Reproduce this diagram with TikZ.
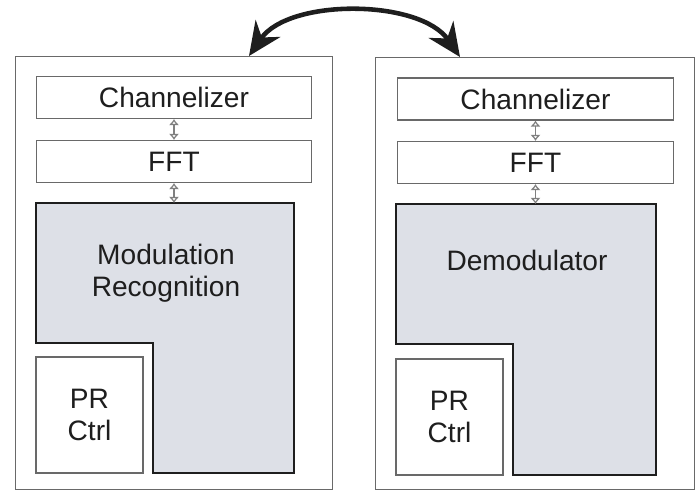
\documentclass[tikz,border=0pt]{standalone}
\usepackage{fontspec}
\setmainfont{Liberation Sans}
\usetikzlibrary{arrows.meta}
\definecolor{modgray}{RGB}{221,224,231}
\definecolor{boxline}{RGB}{105,105,105}
\definecolor{ink}{RGB}{30,30,30}
\tikzset{
  unit/.style={draw=boxline, line width=0.6pt, fill=white, inner sep=0pt},
  stage/.style={draw=boxline, line width=0.6pt, fill=white, inner sep=0pt,
    minimum width=5.52cm, minimum height=0.84cm, text=ink,
    font=\fontsize{16}{18}\selectfont},
  ctrl/.style={draw=boxline, line width=0.6pt, fill=white, inner sep=0pt,
    minimum width=2.14cm, minimum height=2.32cm, align=center, text=ink,
    font=\fontsize{16}{18}\selectfont},
  core/.style={draw=ink, line width=1.5pt, fill=modgray, line join=miter},
  label/.style={align=center, text=ink, font=\fontsize{16}{18.5}\selectfont},
  link/.style={draw=black!50, line width=1.1pt,
    {Latex[open,length=3.5pt,width=6pt]}-{Latex[open,length=3.5pt,width=6pt]}},
  swap/.style={draw=ink, line width=2.6pt,
    {Stealth[length=19pt,width=17pt]}-{Stealth[length=19pt,width=17pt]}}
}
\begin{document}
\begin{tikzpicture}[x=0.02cm, y=-0.02cm]
\useasboundingbox (0,0) rectangle (698,493);
% left unit
\node[unit, minimum width=6.36cm, minimum height=8.68cm] (unitL) at (174,273) {};
\node[stage] (chanL) at (174,97.5) {Channelizer};
\node[stage] (fftL) at (174,161.5) {FFT};
\path[core] (36,203) -- (294,203) -- (294,473) -- (153,473) -- (153,343) -- (36,343) -- cycle;
\coordinate (modL) at (174,203);
\node[label] (recog) at (166,273) {Modulation\\Recognition};
\node[ctrl] (prL) at (89.5,415) {PR\\Ctrl};
\path[link] (chanL) -- (fftL);
\path[link] (fftL) -- (modL);
% right unit
\node[unit, minimum width=6.4cm, minimum height=8.66cm] (unitR) at (535,273.5) {};
\node[stage] (chanR) at (535.5,99) {Channelizer};
\node[stage] (fftR) at (535.5,162.5) {FFT};
\path[core] (396,204) -- (656,204) -- (656,475) -- (513,475) -- (513,344) -- (396,344) -- cycle;
\coordinate (modR) at (535.5,204);
\node[label] (demod) at (527,260) {Demodulator};
\node[ctrl] (prR) at (449.5,417) {PR\\Ctrl};
\path[link] (chanR) -- (fftR);
\path[link] (fftR) -- (modR);
% swap between units
\coordinate (swapL) at (249,56);
\coordinate (swapR) at (460,57);
\path[swap] (swapL) .. controls +(40,-58) and +(-40,-58) .. (swapR);
\end{tikzpicture}
\end{document}
